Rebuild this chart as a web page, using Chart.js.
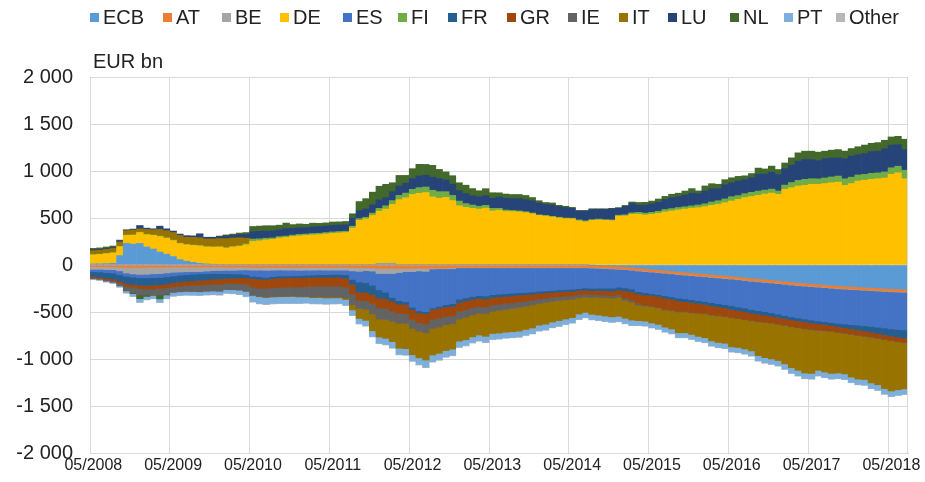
<!DOCTYPE html>
<html><head><meta charset="utf-8">
<script src="https://cdn.jsdelivr.net/npm/chart.js@4.4.0/dist/chart.umd.min.js"></script>
<style>html,body{margin:0;padding:0;background:#fff;}#wrap{width:925px;height:482px;position:relative;}</style>
</head><body><div id="wrap"><canvas id="c" width="925" height="482"></canvas></div>
<script>
// ---- categories: monthly, 05/2008 .. 07/2018 ----
const firstMonth = [2008, 5];
const monthCount = 123;
const months = [];
for (let i = 0; i < monthCount; i++) {
  const m = (firstMonth[1] - 1 + i) % 12 + 1;
  const y = firstMonth[0] + Math.floor((firstMonth[1] - 1 + i) / 12);
  months.push((m < 10 ? '0' : '') + m + '/' + y);
}
const seriesNames = ['ECB','AT','BE','DE','ES','FI','FR','GR','IE','IT','LU','NL','PT','Other'];
const unitLabel = 'EUR bn';
const yTicks = [-2000,-1500,-1000,-500,0,500,1000,1500,2000];

// ---- series values (EUR bn), one row per year starting in May ----
const ECB = [12,12,15,18,100,230,222,230,192,170,138,115,
 90,58,40,28,18,12,8,6,5,5,5,5,
 5,5,5,5,5,5,5,5,5,5,5,5,
 5,5,5,5,5,5,5,15,15,15,5,5,
 5,5,5,5,5,5,5,5,5,5,5,5,
 5,5,5,5,5,5,5,5,5,5,5,5,
 5,5,5,-2,-4,-6,-10,-14,-18,-24,-32,-38,
 -44,-50,-56,-62,-70,-76,-82,-88,-94,-100,-106,-112,
 -118,-125,-132,-140,-146,-152,-158,-165,-172,-180,-186,-192,
 -198,-203,-208,-214,-220,-224,-228,-232,-236,-240,-244,-248,
 -252,-255,-258];
const AT = [-18,-18,-19,-20,-22,-25,-25,-25,-24,-22,-22,-20,
 -20,-20,-20,-20,-20,-20,-20,-20,-22,-22,-22,-22,
 -25,-25,-25,-25,-25,-25,-25,-25,-25,-25,-25,-25,
 -25,-25,-25,-28,-28,-30,-30,-35,-35,-35,-35,-35,
 -35,-33,-36,-33,-32,-33,-30,-25,-25,-25,-25,-25,
 -25,-25,-25,-25,-25,-25,-25,-25,-25,-25,-25,-25,
 -25,-25,-25,-26,-26,-26,-27,-27,-27,-27,-27,-27,
 -27,-27,-27,-27,-27,-27,-27,-27,-27,-27,-27,-27,
 -27,-27,-27,-28,-28,-28,-28,-28,-28,-28,-28,-28,
 -28,-28,-28,-28,-28,-28,-28,-28,-28,-28,-28,-28,
 -28,-28,-28];
const BE = [-28,-28,-30,-30,-40,-60,-70,-75,-75,-72,-70,-65,
 -58,-55,-52,-50,-50,-45,-40,-38,-35,-35,-32,-30,
 -30,-30,-32,-30,-28,-30,-30,-32,-30,-30,-28,-30,
 -30,-30,-30,-35,-40,-30,-35,-55,-55,-55,-45,-35,
 -35,-30,-32,-10,-8,-8,-10,-5,-5,-5,-5,-5,
 -5,-5,-5,-5,-5,-5,-5,-5,-5,-5,-5,-5,
 -5,-5,-5,-5,-5,-5,-5,-5,-5,-5,-5,-5,
 -5,-5,-5,-5,-5,-5,-5,-5,-5,-5,-5,-5,
 -5,-5,-5,-5,-5,-5,-5,-5,-5,-5,-5,-5,
 -5,-5,-5,-5,-5,-5,-5,-5,-5,-5,-5,-5,
 -5,-5,-5];
const DE = [95,100,105,110,95,85,95,115,130,145,165,170,
 170,170,175,180,185,180,182,185,175,187,195,210,
 245,252,262,268,282,288,298,305,310,315,318,325,
 332,336,340,388,470,485,522,558,580,630,690,710,
 745,758,765,720,705,715,680,625,608,598,590,600,
 570,578,565,563,560,552,540,522,515,505,495,487,
 485,465,455,475,480,475,472,520,522,540,540,532,
 540,550,565,575,586,595,604,610,621,635,646,663,
 681,698,717,728,741,755,765,752,805,822,840,847,
 858,858,866,875,882,847,866,893,902,911,918,925,
 964,981,918];
const ES = [-25,-28,-32,-35,-40,-35,-35,-35,-38,-40,-40,-42,
 -40,-35,-30,-28,-25,-28,-30,-35,-35,-38,-42,-50,
 -65,-70,-75,-68,-65,-62,-60,-58,-55,-52,-50,-48,
 -45,-45,-50,-90,-113,-130,-150,-175,-200,-255,-300,-320,
 -380,-425,-430,-415,-400,-380,-370,-335,-320,-305,-295,-300,
 -285,-280,-275,-270,-265,-262,-258,-250,-245,-240,-235,-230,
 -228,-220,-215,-215,-212,-210,-205,-190,-195,-200,-220,-225,
 -228,-232,-240,-245,-250,-252,-255,-258,-262,-268,-272,-278,
 -285,-290,-295,-300,-305,-310,-318,-325,-332,-340,-345,-350,
 -355,-360,-362,-365,-368,-370,-372,-375,-378,-380,-385,-390,
 -395,-398,-400];
const FI = [5,5,5,5,5,5,5,5,5,5,5,5,
 5,5,5,5,5,5,5,5,5,5,5,10,
 25,22,18,15,15,15,15,15,15,15,15,15,
 15,15,15,20,18,18,25,30,35,40,45,50,
 55,60,60,70,70,60,55,50,40,35,30,30,
 28,20,15,12,10,10,8,7,7,8,8,8,
 8,10,10,8,8,8,8,10,12,15,20,20,
 20,22,25,25,25,25,25,28,30,35,38,40,
 46,40,42,45,45,42,42,35,45,55,60,64,
 60,58,60,62,64,70,68,65,62,64,62,65,
 70,70,90];
const FR = [-50,-55,-60,-65,-70,-75,-78,-78,-80,-80,-78,-75,
 -70,-70,-70,-70,-70,-65,-60,-55,-50,-45,-40,-35,
 -25,-25,-22,-20,-20,-20,-20,-20,-22,-25,-25,-28,
 -30,-30,-35,-55,-106,-100,-100,-85,-70,-40,-35,-30,
 -25,-20,-20,-15,-20,-25,-30,-35,-30,-30,-30,-32,
 -30,-30,-28,-28,-26,-24,-22,-22,-20,-20,-20,-22,
 -22,-22,-22,-25,-25,-28,-30,-30,-30,-30,-25,-25,
 -20,-20,-25,-25,-30,-30,-30,-32,-32,-35,-35,-35,
 -38,-38,-38,-40,-40,-40,-35,-35,-32,-30,-30,-30,
 -30,-30,-30,-30,-35,-40,-45,-50,-55,-60,-65,-70,
 -75,-80,-85];
const GR = [-15,-15,-18,-20,-25,-30,-32,-35,-38,-40,-40,-42,
 -45,-45,-48,-50,-50,-52,-55,-58,-55,-58,-62,-70,
 -90,-95,-95,-98,-100,-100,-100,-100,-98,-98,-96,-95,
 -95,-95,-98,-100,-88,-90,-95,-105,-105,-105,-100,-100,
 -105,-105,-108,-105,-105,-100,-100,-95,-95,-90,-88,-85,
 -80,-78,-76,-74,-72,-70,-65,-60,-58,-55,-52,-50,
 -48,-45,-42,-42,-45,-48,-50,-50,-80,-90,-100,-105,
 -110,-115,-120,-115,-110,-105,-105,-100,-95,-95,-92,-88,
 -85,-82,-80,-78,-75,-72,-70,-70,-70,-70,-70,-70,
 -68,-65,-62,-60,-58,-55,-55,-55,-52,-50,-50,-48,
 -48,-48,-45];
const IE = [-10,-10,-12,-15,-25,-45,-55,-70,-65,-60,-70,-65,
 -60,-60,-62,-65,-70,-70,-72,-75,-65,-65,-70,-75,
 -90,-90,-92,-95,-95,-95,-95,-100,-105,-110,-115,-115,
 -115,-115,-115,-115,-88,-90,-110,-120,-115,-110,-105,-100,
 -95,-90,-95,-95,-95,-90,-85,-80,-80,-75,-72,-70,
 -68,-66,-64,-60,-58,-55,-50,-48,-45,-42,-40,-38,
 -35,-32,-30,-28,-26,-25,-25,-25,-22,-20,-18,-10,
 -10,-8,-8,-8,-8,-6,-6,-6,-6,-6,-6,-5,
 -5,-5,-5,-5,-5,-5,-5,-5,-5,-5,-5,-5,
 -5,-5,-5,-5,-5,-5,-5,-5,-5,-5,-5,-5,
 -5,-5,-5];
const IT = [40,40,40,42,45,45,50,35,50,55,70,75,
 80,80,75,80,82,80,82,85,95,90,85,60,
 0,-3,-5,-5,-5,-5,-5,-5,-5,-8,-8,-10,
 -10,-10,-15,-55,-106,-120,-180,-191,-200,-215,-265,-270,
 -280,-285,-290,-285,-280,-275,-270,-235,-240,-235,-230,-242,
 -236,-240,-242,-248,-253,-245,-245,-230,-232,-220,-215,-205,
 -197,-173,-165,-182,-190,-195,-200,-205,-190,-190,-165,-162,
 -173,-175,-180,-193,-221,-220,-229,-244,-253,-272,-282,-283,
 -308,-306,-311,-318,-360,-374,-380,-384,-408,-435,-452,-469,
 -465,-425,-439,-447,-430,-432,-454,-464,-460,-487,-492,-521,
 -532,-508,-491];
const LU = [10,10,12,12,15,10,10,35,15,10,35,20,
 15,15,15,15,40,18,18,22,30,30,35,40,
 80,80,75,75,72,78,72,70,68,70,70,68,
 70,68,68,85,85,88,88,90,88,95,100,105,
 115,124,125,140,140,125,120,110,106,100,100,105,
 106,120,125,128,130,128,130,125,118,120,112,110,
 105,95,105,110,105,110,118,75,90,100,75,85,
 90,95,105,115,115,125,134,120,135,140,130,150,
 148,155,150,155,180,170,180,176,175,185,205,212,
 205,195,205,200,194,215,225,215,222,230,230,245,
 240,230,220];
const NL = [15,15,15,15,5,-5,-10,-40,-15,-10,-40,-10,
 0,0,0,0,0,0,0,5,10,12,15,20,
 55,55,58,55,50,60,40,42,35,40,35,35,
 35,35,35,47,97,110,135,145,140,95,113,83,
 105,124,115,125,97,85,90,85,90,75,65,72,
 60,45,45,42,45,45,35,25,20,22,15,15,
 10,5,5,5,5,5,5,5,10,15,30,30,
 30,35,35,38,38,42,50,30,55,55,45,55,
 53,50,40,45,65,55,65,53,60,78,88,88,
 88,90,80,85,88,80,80,85,90,90,92,92,
 88,88,110];
const PT = [-5,-5,-6,-6,-10,-20,-25,-35,-30,-30,-35,-35,
 -35,-35,-35,-35,-35,-35,-35,-35,-35,-38,-42,-50,
 -65,-70,-70,-68,-68,-68,-70,-65,-62,-60,-62,-62,
 -60,-58,-58,-55,-53,-55,-60,-65,-65,-65,-65,-65,
 -65,-70,-75,-70,-68,-65,-65,-62,-60,-60,-60,-61,
 -60,-61,-60,-61,-61,-60,-60,-60,-60,-58,-58,-55,
 -55,-55,-55,-55,-55,-55,-55,-55,-55,-56,-50,-50,
 -50,-50,-50,-50,-50,-50,-50,-50,-50,-52,-52,-52,
 -52,-52,-52,-52,-55,-55,-55,-55,-55,-57,-57,-57,
 -57,-57,-57,-57,-57,-57,-57,-57,-57,-57,-57,-57,
 -57,-57,-57];
const OTHER = [-6,-6,-6,-6,-6,-6,-6,-6,-6,-6,-6,-6,
 -6,-6,-6,-6,-6,-6,-6,-6,-6,-6,-6,-6,
 -6,-6,-6,-6,-6,-6,-6,-6,-6,-6,-6,-6,
 -6,-6,-6,-6,-6,-6,-6,-6,-6,-6,-6,-6,
 -6,-6,-6,-6,-6,-6,-6,-6,-6,-6,-6,-6,
 -4,-4,-4,-4,-4,-4,-4,-4,-4,-4,-4,-4,
 -4,-4,-4,-4,-4,-4,-4,-4,-4,-4,-4,-4,
 -4,-4,-4,-4,-4,-4,-4,-4,-4,-4,-4,-4,
 -4,-4,-4,-4,-4,-4,-4,-4,-4,-4,-4,-4,
 -4,-4,-4,-4,-4,-4,-4,-4,-4,-4,-4,-4,
 -4,-4,-4];

// ---- styles ----
const seriesData = [ECB,AT,BE,DE,ES,FI,FR,GR,IE,IT,LU,NL,PT,OTHER];
const seriesColors = ['#5B9BD5','#ED7D31','#A5A5A5','#FFC000','#4472C4','#70AD47','#255E91','#9E480E','#636363','#997300','#264478','#43682B','#7CAFDD','#B7B7B7'];
const legendX = [90,163,222,280,343,398,448,507,568,619,668,730,784,836];
const gridColor = '#d9d9d9';
const textColor = '#222222';
const baseFont = '"Liberation Sans", Arial, sans-serif';

function fontAvailable(name){
  const c = document.createElement('canvas').getContext('2d');
  c.font = '20px monospace'; const a = c.measureText('05/2008 Wg').width;
  c.font = '20px "' + name + '", monospace'; const b = c.measureText('05/2008 Wg').width;
  return a !== b;
}
const narrow = fontAvailable('Liberation Sans Narrow');
const xFont = narrow ? {family:'"Liberation Sans Narrow"', size:19} : {family: baseFont, size:16};

function fmt(v){
  const s = Math.abs(v).toString().replace(/\B(?=(\d{3})+(?!\d))/g, ' ');
  return (v < 0 ? '-' : '') + s;
}

const overlay = {
  id: 'overlay',
  afterDraw(chart){
    const ctx = chart.ctx, a = chart.chartArea;
    ctx.save();
    ctx.strokeStyle = gridColor; ctx.lineWidth = 1;
    const rx = Math.round(a.right) - 0.5;
    ctx.beginPath(); ctx.moveTo(rx, a.top); ctx.lineTo(rx, a.bottom); ctx.stroke();
    ctx.fillStyle = textColor;
    ctx.font = '20px ' + baseFont;
    ctx.textBaseline = 'middle'; ctx.textAlign = 'left';
    ctx.fillText(unitLabel, a.left + 3, a.top - 15);
    for (let i = 0; i < seriesNames.length; i++) {
      const x = legendX[i];
      ctx.fillStyle = seriesColors[i];
      ctx.fillRect(x, 13, 9, 9);
      ctx.fillStyle = textColor;
      ctx.fillText(seriesNames[i], x + 13, 18);
    }
    ctx.restore();
  }
};

new Chart(document.getElementById('c'), {
  type: 'bar',
  data: {
    labels: months,
    datasets: seriesNames.map((n, i) => ({
      label: n, data: seriesData[i], backgroundColor: seriesColors[i],
      borderWidth: 0, barPercentage: 1, categoryPercentage: 1, stack: 's'
    }))
  },
  options: {
    responsive: false, animation: false, devicePixelRatio: 1,
    layout: { padding: { left: 10, right: 17, top: 77, bottom: 0 } },
    plugins: { legend: { display: false }, tooltip: { enabled: false } },
    scales: {
      x: {
        stacked: true,
        grid: { offset: true, drawTicks: false,
          color: c => (c.index !== undefined && c.index % 12 === 0) ? gridColor : 'rgba(0,0,0,0)' },
        border: { color: gridColor },
        ticks: { autoSkip: false, maxRotation: 0, minRotation: 0, padding: 3,
          color: textColor, font: xFont,
          callback: (v, i) => (i % 12 === 0 ? months[i] : '') },
        afterFit: s => { s.height = 27; }
      },
      y: {
        stacked: true, min: yTicks[0], max: yTicks[yTicks.length - 1],
        afterBuildTicks: s => { s.ticks = yTicks.map(v => ({ value: v })); },
        grid: { color: gridColor, drawTicks: false },
        border: { color: gridColor },
        ticks: { padding: 17, color: textColor, font: { family: baseFont, size: 20 }, callback: v => fmt(v) },
        afterFit: s => { s.width = 80; }
      }
    }
  },
  plugins: [overlay]
});
</script>
</body></html>
